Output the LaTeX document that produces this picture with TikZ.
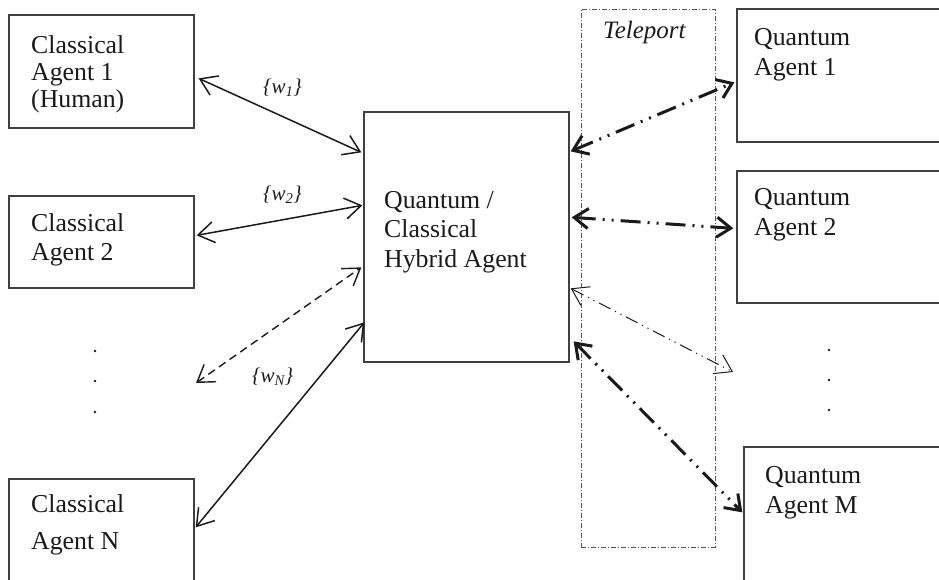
\documentclass[tikz,border=0pt]{standalone}
\usepackage{fontspec}
\setmainfont{Liberation Serif}
\usetikzlibrary{arrows.meta,calc}
\newcommand\mlines[2]{\vtop{\baselineskip=#1\relax\lineskiplimit=-100pt\relax #2}}
\definecolor{boxcol}{HTML}{404040}
\definecolor{txtcol}{HTML}{1A1A1A}
\definecolor{telcol}{HTML}{555555}
\tikzset{
  box/.style={draw=boxcol, line width=1.3pt, inner sep=0pt, fill=none},
  txt/.style={anchor=base west, inner sep=0pt, text=txtcol, font=\fontsize{25.8}{30}\selectfont},
  wlbl/.style={anchor=base west, inner sep=0pt, text=txtcol, font=\fontsize{21}{24}\selectfont\itshape},
  barb/.tip={Straight Barb[length=16pt,width=21pt]},
  tbarb/.tip={Straight Barb[length=14pt,width=20pt]},
  solidarr/.style={draw=txtcol, line width=1.5pt, barb-barb},
  dasharr/.style={draw=txtcol, line width=1.4pt, dash pattern=on 8pt off 5pt, barb-barb},
  thickarr/.style={draw=txtcol, line width=3pt, dash pattern=on 20pt off 7pt on 2pt off 7pt on 2pt off 7pt, tbarb-tbarb},
  thinarr/.style={draw=txtcol, line width=1pt, dash pattern=on 13pt off 5pt on 1.2pt off 5pt on 1.2pt off 5pt, barb-barb},
  telebox/.style={draw=telcol, line width=0.8pt, dash pattern=on 5pt off 2pt on 1pt off 2pt, inner sep=0pt},
}
\begin{document}
\begin{tikzpicture}[x=1pt,y=-1pt]
\useasboundingbox (0,0) rectangle (939,579);
\clip (0,0) rectangle (939,579);
% boxes
\node[box, minimum width=185pt, minimum height=113pt] (ca1) at (101.5,71.5) {};
\node[box, minimum width=185pt, minimum height=92pt] (ca2) at (101.5,242) {};
\node[box, minimum width=185pt, minimum height=122pt] (can) at (101.5,540) {};
\node[box, minimum width=205pt, minimum height=250pt] (hyb) at (466.5,237) {};
\node[telebox, minimum width=134pt, minimum height=538pt] (tel) at (648,278) {};
\node[box, minimum width=223pt, minimum height=133pt] (qa1) at (848.5,75.5) {};
\node[box, minimum width=223pt, minimum height=132pt] (qa2) at (848.5,237) {};
\node[box, minimum width=216pt, minimum height=153pt] (qam) at (852,523.5) {};
% texts
\node[txt] (t1) at (31,53) {\mlines{27pt}{\hbox{Classical}\hbox{Agent 1}\hbox{(Human)}}};
\node[txt] (t2) at (31,231) {\mlines{29pt}{\hbox{Classical}\hbox{Agent 2}}};
\node[txt] (tn) at (31,512) {\mlines{37pt}{\hbox{Classical}\hbox{Agent N}}};
\node[txt] (th) at (384,208) {\mlines{29.5pt}{\hbox{Quantum /}\hbox{Classical}\hbox{Hybrid Agent}}};
\node[txt] (tq1) at (754,45) {\mlines{30pt}{\hbox{Quantum}\hbox{Agent 1}}};
\node[txt] (tq2) at (754,205) {\mlines{30pt}{\hbox{Quantum}\hbox{Agent 2}}};
\node[txt] (tqm) at (765,483) {\mlines{30pt}{\hbox{Quantum}\hbox{Agent M}}};
\node[txt, font=\fontsize{25}{30}\selectfont\itshape] (ttel) at (603,38) {Teleport};
% weight labels
\node[wlbl] (w1) at (263,93) {\{w\textsubscript{1}\}};
\node[wlbl] (w2) at (263,200) {\{w\textsubscript{2}\}};
\node[wlbl] (wn) at (252,382) {\{w\textsubscript{N}\}};
% free ends
\coordinate (dfree) at (196,383);
\coordinate (tfree) at (733,372);
% left connectors
\draw[solidarr] ($(ca1.north east)+(4,64)$) -- ($(hyb.north west)+(-2,41)$);
\draw[solidarr] ($(ca2.north east)+(2,40)$) -- ($(hyb.north west)+(-1,94)$);
\draw[dasharr] (dfree) -- ($(hyb.north west)+(-2,156)$);
\draw[solidarr] ($(can.north east)+(1,49)$) -- ($(hyb.north west)+(1,211)$);
% right connectors
\draw[thickarr] ($(hyb.north east)+(1,40)$) -- ($(qa1.north west)+(-2,74)$);
\draw[thickarr] ($(hyb.north east)+(2,106)$) -- ($(qa2.north west)+(-3,58)$);
\draw[thinarr] ($(hyb.north east)+(1,177)$) -- (tfree);
\draw[thickarr] ($(hyb.north east)+(4,230)$) -- ($(qam.north west)+(-1,66)$);
% ellipsis dots
\foreach \yy in {351,381,412} \fill[txtcol] (95,\yy) circle (1.4pt);
\foreach \yy in {350,380,410} \fill[txtcol] (829,\yy) circle (1.4pt);
\end{tikzpicture}
\end{document}
